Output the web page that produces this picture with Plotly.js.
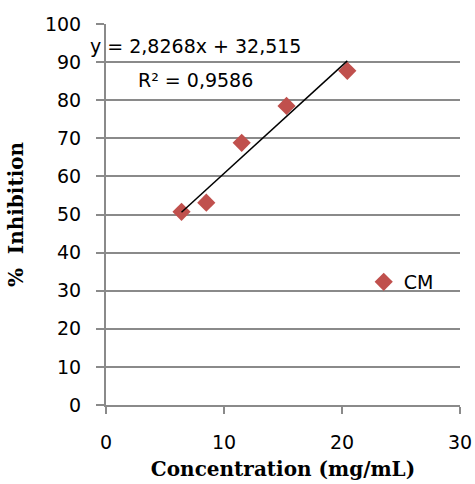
<!DOCTYPE html>
<html>
<head>
<meta charset="utf-8">
<script src="https://cdn.plot.ly/plotly-3.0.1.min.js"></script>
<style>html,body{margin:0;padding:0;background:#fff;}#chart{width:475px;height:484px;}</style>
</head>
<body>
<div id="chart"></div>
<script>
// Data
var concentration = [6.4, 8.5, 11.5, 15.3, 20.45];
var inhibition = [50.7, 53.1, 68.8, 78.5, 87.7];
var seriesName = "CM";
var trendSlope = 2.8268;
var trendIntercept = 32.515;
var equationText = "y = 2,8268x + 32,515";
var r2Text = "R² = 0,9586";
var xTicks = [0, 10, 20, 30];
var yTicks = [0, 10, 20, 30, 40, 50, 60, 70, 80, 90, 100];

var xMin = Math.min.apply(null, concentration);
var xMax = Math.max.apply(null, concentration);
var trendX = [xMin, xMax];
var trendY = trendX.map(function (v) { return trendSlope * v + trendIntercept; });

var tickFont = {family: "DejaVu Sans", size: 19, color: "#000"};
var titleFont = {family: "DejaVu Serif", size: 20, color: "#000", weight: "bold"};
var gridColor = "#8a8a8a";

var data = [
  {
    x: concentration, y: inhibition, type: "scatter", mode: "markers", name: seriesName,
    marker: {symbol: "diamond", size: 14, color: "#c0504d", line: {width: 0}},
    cliponaxis: false
  },
  {
    x: trendX, y: trendY, type: "scatter", mode: "lines", showlegend: false,
    line: {color: "#000", width: 1.5}, hoverinfo: "skip", cliponaxis: false
  }
];

var layout = {
  width: 475, height: 484,
  margin: {l: 106, r: 15, t: 24, b: 79, pad: 0},
  paper_bgcolor: "#fff", plot_bgcolor: "#fff",
  showlegend: true,
  legend: {x: 0.728, y: 0.323, xanchor: "left", yanchor: "middle", font: tickFont, bgcolor: "rgba(0,0,0,0)", borderwidth: 0},
  xaxis: {
    range: [0, 30], tickvals: xTicks, ticktext: xTicks.map(String),
    showgrid: false, zeroline: false, showline: true, linecolor: gridColor, linewidth: 2,
    ticks: "outside", ticklen: 7, tickwidth: 2, tickcolor: gridColor, ticklabelstandoff: 12,
    tickfont: tickFont,
    title: {text: "Concentration (mg/mL)", font: titleFont, standoff: 10}
  },
  yaxis: {
    range: [0, 100], tickvals: yTicks, ticktext: yTicks.map(String),
    showgrid: true, gridcolor: gridColor, gridwidth: 2, zeroline: false,
    showline: true, linecolor: gridColor, linewidth: 2,
    ticks: "outside", ticklen: 8, tickwidth: 2, tickcolor: gridColor, ticklabelstandoff: 11,
    tickfont: tickFont,
    title: {text: "%  Inhibition", font: titleFont, standoff: 16}
  },
  annotations: [
    {xref: "paper", yref: "paper", x: (195 - 106) / 354, y: (405 - 46) / 381, text: equationText,
     showarrow: false, xanchor: "center", yanchor: "middle", font: tickFont},
    {xref: "paper", yref: "paper", x: (195 - 106) / 354, y: (405 - 80) / 381, text: r2Text,
     showarrow: false, xanchor: "center", yanchor: "middle", font: tickFont}
  ]
};

Plotly.newPlot("chart", data, layout, {displayModeBar: false, staticPlot: true});
</script>
</body>
</html>
